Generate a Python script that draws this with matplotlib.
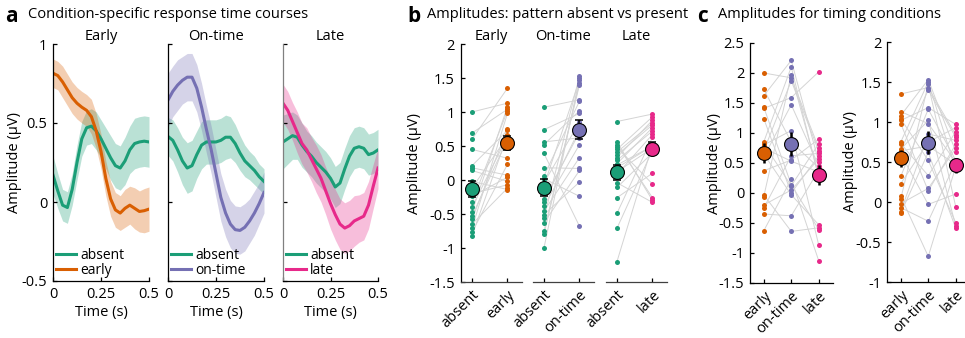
import numpy as np
import matplotlib
matplotlib.use('Agg')
from matplotlib import pyplot as plt

plt.rcParams['font.family'] = ['Open Sans', 'DejaVu Sans']
plt.rcParams['font.size'] = 10.5
plt.rcParams['axes.linewidth'] = 0.9
plt.rcParams['xtick.direction'] = 'in'
plt.rcParams['ytick.direction'] = 'in'

GREEN = '#1b9e77'
ORANGE = '#d95f02'
PURPLE = '#7570b3'
PINK = '#e7298a'

# ---- panel a: time courses (mean and sem half-width) ----
time = [0, 0.025, 0.05, 0.075, 0.1, 0.125, 0.15, 0.175, 0.2, 0.225, 0.25,
        0.275, 0.3, 0.325, 0.35, 0.375, 0.4, 0.425, 0.45, 0.475, 0.5]

absent_e = [0.17, 0.07, -0.02, -0.035, 0.08, 0.25, 0.40, 0.47, 0.48, 0.45, 0.40,
            0.34, 0.28, 0.23, 0.215, 0.26, 0.33, 0.37, 0.38, 0.385, 0.38]
absent_e_sem = [0.12, 0.11, 0.10, 0.10, 0.10, 0.11, 0.11, 0.11, 0.11, 0.12, 0.12,
                0.13, 0.14, 0.14, 0.14, 0.15, 0.15, 0.16, 0.16, 0.16, 0.16]
early_tc = [0.815, 0.80, 0.76, 0.71, 0.66, 0.625, 0.60, 0.58, 0.54, 0.45, 0.32,
            0.15, 0.02, -0.05, -0.07, -0.04, -0.02, -0.04, -0.06, -0.055, -0.045]
early_sem = [0.09, 0.09, 0.10, 0.10, 0.10, 0.10, 0.10, 0.10, 0.11, 0.11, 0.11,
             0.11, 0.11, 0.11, 0.11, 0.12, 0.12, 0.13, 0.13, 0.14, 0.14]

absent_o = [0.415, 0.39, 0.33, 0.26, 0.215, 0.23, 0.30, 0.36, 0.38, 0.38, 0.38,
            0.39, 0.41, 0.41, 0.37, 0.31, 0.26, 0.23, 0.20, 0.16, 0.13]
absent_o_sem = [0.12, 0.13, 0.14, 0.15, 0.16, 0.16, 0.15, 0.15, 0.14, 0.14, 0.14,
                0.14, 0.14, 0.13, 0.12, 0.11, 0.10, 0.09, 0.09, 0.08, 0.08]
ontime_tc = [0.645, 0.70, 0.74, 0.77, 0.79, 0.79, 0.72, 0.60, 0.46, 0.33, 0.18,
             0.03, -0.07, -0.14, -0.175, -0.18, -0.16, -0.12, -0.07, -0.01, 0.06]
ontime_sem = [0.17, 0.16, 0.16, 0.15, 0.15, 0.15, 0.15, 0.15, 0.15, 0.15, 0.15,
              0.15, 0.15, 0.15, 0.15, 0.15, 0.15, 0.14, 0.14, 0.13, 0.13]

absent_l = [0.38, 0.40, 0.42, 0.41, 0.36, 0.32, 0.29, 0.25, 0.22, 0.19, 0.15,
            0.095, 0.12, 0.21, 0.29, 0.34, 0.35, 0.34, 0.30, 0.31, 0.33]
absent_l_sem = [0.17, 0.16, 0.15, 0.14, 0.14, 0.13, 0.13, 0.13, 0.13, 0.13, 0.13,
                0.13, 0.13, 0.13, 0.13, 0.13, 0.13, 0.13, 0.13, 0.13, 0.13]
late_tc = [0.625, 0.58, 0.51, 0.44, 0.37, 0.33, 0.27, 0.21, 0.15, 0.07, -0.01,
           -0.08, -0.14, -0.165, -0.15, -0.12, -0.105, -0.09, -0.02, 0.10, 0.215]
late_sem = [0.12, 0.12, 0.12, 0.13, 0.13, 0.14, 0.14, 0.15, 0.15, 0.15, 0.16,
            0.16, 0.16, 0.16, 0.16, 0.16, 0.15, 0.15, 0.15, 0.14, 0.13]

# ---- per-subject amplitudes (same subject order in every list) ----
abs_early = [0.60, 1.00, -0.47, 0.69, -0.33, -0.71, -0.58, 0.21, -0.82, -0.12,
             -0.40, -0.53, 0.45, -0.77, 0.18, -0.24, 0.14, -0.20, -0.65, -0.02]
abs_ontime = [-0.80, 0.74, -0.56, -0.38, 1.07, -0.63, -1.00, -0.46, 0.52, -0.28,
              -0.75, -0.51, 0.06, -0.33, 0.39, -0.08, 0.18, 0.02, -0.04, 0.56]
abs_late = [0.41, 0.22, -0.49, 0.52, 0.86, 0.29, -0.11, 0.33, 0.56, 0.12,
            0.37, -0.26, -1.20, 0.45, -0.71, 0.48, 0.08, 0.18, 0.24, -0.04]
pres_early = [1.35, 1.13, 1.08, 1.04, 1.02, 0.98, 0.75, 0.73, 0.66, 0.64,
              0.64, 0.60, 0.32, 0.23, 0.07, 0.04, -0.02, -0.07, -0.12, -0.14]
pres_ontime = [1.43, 0.98, 1.53, 0.52, 1.18, 0.14, 1.50, 0.33, 1.02, 0.70,
               1.40, -0.03, 1.16, 0.75, -0.68, 1.47, 0.17, -0.24, 0.85, 0.62]
pres_late = [0.84, 0.50, 0.63, -0.26, 0.97, 0.72, 0.40, 0.88, -0.30, 0.47,
             0.81, 0.10, 0.52, 0.93, 0.44, -0.06, 0.67, 0.50, 0.77, -0.33]

timing_early = [2.00, 1.73, 1.62, 1.43, 1.41, 1.24, 0.85, 0.82, 0.80, 0.75,
                0.70, 0.65, 0.60, 0.37, -0.03, -0.06, -0.20, -0.35, -0.25, -0.63]
timing_ontime = [1.92, 0.85, 2.21, 0.14, 1.59, 0.00, 2.10, 0.12, 1.04, 0.53,
                 1.87, -0.03, 1.47, 0.55, -0.64, 1.97, 0.05, -0.38, 0.62, 0.23]
timing_late = [0.75, 0.42, 0.52, -0.61, 2.02, 0.62, 0.25, 0.82, -0.87, 0.35,
               0.70, -0.53, 0.45, 0.90, -0.58, 0.30, 0.57, 0.38, 0.66, -1.13]

W, H = 965, 338


def box(left, top, right, bottom):
    return [left / W, 1 - bottom / H, (right - left) / W, (bottom - top) / H]


def mean_sem(v):
    v = np.asarray(v)
    return v.mean(), v.std(ddof=1) / np.sqrt(len(v))


def clean(ax):
    ax.spines['top'].set_visible(False)
    ax.spines['right'].set_visible(False)
    ax.tick_params(length=3, width=0.9, pad=4)


fig = plt.figure(figsize=(W / 100, H / 100), dpi=100)

# headers
fig.text(5 / W, 1 - 16 / H, 'a', weight='bold', size=15, va='center')
fig.text(28 / W, 1 - 15 / H, 'Condition-specific response time courses', size=10.5, va='center')
fig.text(407 / W, 1 - 16 / H, 'b', weight='bold', size=15, va='center')
fig.text(427 / W, 1 - 15 / H, 'Amplitudes: pattern absent vs present', size=10.5, va='center')
fig.text(697 / W, 1 - 16 / H, 'c', weight='bold', size=15, va='center')
fig.text(718 / W, 1 - 15 / H, 'Amplitudes for timing conditions', size=10.5, va='center')

# ---- panel a ----
a_boxes = [(53, 44, 149, 281), (168, 44, 264, 281), (283, 44, 378, 281)]
a_titles = ['Early', 'On-time', 'Late']
a_cond = [(absent_e, absent_e_sem, early_tc, early_sem, ORANGE, 'early'),
          (absent_o, absent_o_sem, ontime_tc, ontime_sem, PURPLE, 'on-time'),
          (absent_l, absent_l_sem, late_tc, late_sem, PINK, 'late')]
t = np.array(time)
for i, (bx, title, cond) in enumerate(zip(a_boxes, a_titles, a_cond)):
    ab, ab_s, pr, pr_s, col, lab = cond
    ax = fig.add_axes(box(*bx))
    clean(ax)
    ab, ab_s, pr, pr_s = map(np.array, (ab, ab_s, pr, pr_s))
    ax.fill_between(t, ab - ab_s, ab + ab_s, color=GREEN, alpha=0.3, lw=0)
    ax.fill_between(t, pr - pr_s, pr + pr_s, color=col, alpha=0.3, lw=0)
    ax.plot(t, ab, color=GREEN, lw=2.2, label='absent')
    ax.plot(t, pr, color=col, lw=2.2, label=lab)
    ax.set_xlim(0, 0.5)
    ax.set_ylim(-0.5, 1)
    ax.set_xticks([0, 0.25, 0.5])
    ax.set_xticklabels(['0', '0.25', '0.5'])
    ax.set_yticks([-0.5, 0, 0.5, 1])
    if i == 0:
        ax.set_yticklabels(['-0.5', '0', '0.5', '1'])
        ax.set_ylabel('Amplitude (μV)')
        ax.yaxis.set_label_coords(-0.32, 0.5)
    else:
        ax.set_yticklabels([])
    if i == 2:
        ax.spines['left'].set_color('#808080')
    ax.set_xlabel('Time (s)')
    ax.xaxis.set_label_coords(0.5, -0.1)
    ax.set_title(title, pad=-1, size=10.5)
    ax.legend(loc='lower left', frameon=False, handlelength=1.4, handletextpad=0.3,
              labelspacing=0.0, borderaxespad=0.1, borderpad=0.15, fontsize=10)

# ---- panel b ----
b_boxes = [(460.6, 44, 521.7, 282), (532.6, 44, 593.7, 282), (605.6, 44, 666.7, 282)]
b_data = [(abs_early, pres_early, ORANGE, 'early', 'Early'),
          (abs_ontime, pres_ontime, PURPLE, 'on-time', 'On-time'),
          (abs_late, pres_late, PINK, 'late', 'Late')]
for i, (bx, (ab, pr, col, lab, title)) in enumerate(zip(b_boxes, b_data)):
    ax = fig.add_axes(box(*bx))
    clean(ax)
    for a_v, p_v in zip(ab, pr):
        ax.plot([0, 1], [a_v, p_v], color='#d4d4d4', lw=0.7, zorder=1)
    ax.plot(np.zeros(len(ab)), ab, 'o', ms=3.6, color=GREEN, mew=0, zorder=2)
    ax.plot(np.ones(len(pr)), pr, 'o', ms=3.6, color=col, mew=0, zorder=2)
    for x, v, c in [(0, ab, GREEN), (1, pr, col)]:
        m, s = mean_sem(v)
        ax.errorbar(x, m, yerr=s, fmt='none', ecolor='k', elinewidth=1.1,
                    capsize=3, capthick=1.1, zorder=3)
        ax.plot(x, m, 'o', ms=10, mfc=c, mec='k', mew=0.8, zorder=4)
    ax.set_xlim(-0.32, 1.4)
    ax.set_ylim(-1.5, 2)
    ax.set_xticks([0, 1])
    ax.set_xticklabels(['absent', lab], rotation=45, ha='right', rotation_mode='anchor')
    ax.spines['bottom'].set_color('#404040')
    if i == 0:
        ax.set_yticks([-1.5, -1, -0.5, 0, 0.5, 1, 1.5, 2])
        ax.set_yticklabels(['-1.5', '-1', '-0.5', '0', '0.5', '1', '1.5', '2'])
        ax.set_ylabel('Amplitude (μV)')
        ax.yaxis.set_label_coords(-0.63, 0.5)
    else:
        ax.spines['left'].set_visible(False)
        ax.set_yticks([])
    ax.set_title(title, pad=-1, size=10.5)

# ---- panel c ----
c_boxes = [(750, 43, 832.5, 283), (887, 42, 964, 282)]
c_sets = [(timing_early, timing_ontime, timing_late),
          (pres_early, pres_ontime, pres_late)]
c_ylims = [(-1.5, 2.5), (-1, 2)]
c_yticks = [[-1.5, -1, -0.5, 0, 0.5, 1, 1.5, 2, 2.5], [-1, -0.5, 0, 0.5, 1, 1.5, 2]]
c_yticklabels = [['-1.5', '-1', '-0.5', '0', '0.5', '1', '1.5', '2', '2.5'],
                 ['-1', '-0.5', '0', '0.5', '1', '1.5', '2']]
c_xlims = [(0.5, 3.5), (0.5, 3.3)]
c_labcoords = [-0.34, -0.38]
cond_names = ['early', 'on-time', 'late']
cond_cols = [ORANGE, PURPLE, PINK]
for i, bx in enumerate(c_boxes):
    ax = fig.add_axes(box(*bx))
    clean(ax)
    e, o, l = c_sets[i]
    for vals in zip(e, o, l):
        ax.plot([1, 2, 3], vals, color='#d4d4d4', lw=0.7, zorder=1)
    for k, (v, c) in enumerate(zip((e, o, l), cond_cols)):
        ax.plot(np.full(len(v), k + 1), v, 'o', ms=3.6, color=c, mew=0, zorder=2)
        m, s = mean_sem(v)
        ax.errorbar(k + 1, m, yerr=s, fmt='none', ecolor='k', elinewidth=1.8,
                    capsize=0, zorder=3)
        ax.plot(k + 1, m, 'o', ms=10, mfc=c, mec='k', mew=0.8, zorder=4)
    ax.set_xlim(*c_xlims[i])
    ax.set_ylim(*c_ylims[i])
    ax.set_xticks([1, 2, 3])
    ax.set_xticklabels(cond_names, rotation=45, ha='right', rotation_mode='anchor')
    ax.set_yticks(c_yticks[i])
    ax.set_yticklabels(c_yticklabels[i])
    ax.set_ylabel('Amplitude (μV)')
    ax.yaxis.set_label_coords(c_labcoords[i], 0.5)

fig.savefig('out.png', dpi=100)
